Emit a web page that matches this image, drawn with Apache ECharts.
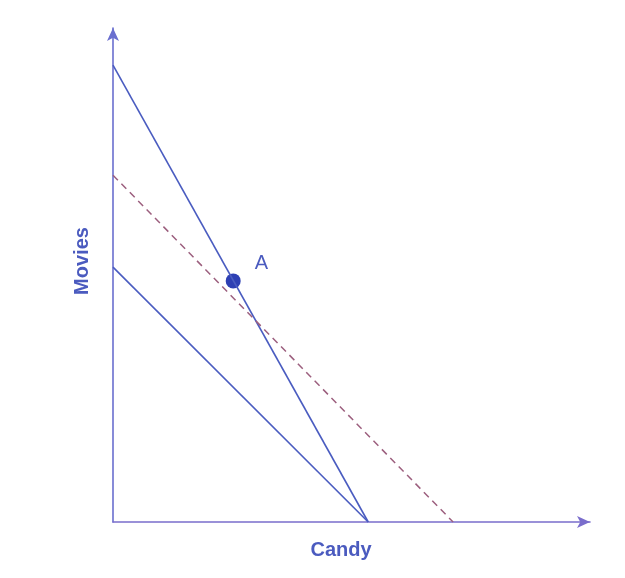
<!DOCTYPE html>
<html><head><meta charset="utf-8">
<script src="https://cdn.jsdelivr.net/npm/echarts@6/dist/echarts.min.js"></script>
<style>html,body{margin:0;padding:0;background:#fff}#c{width:625px;height:578px}</style>
</head><body><div id="c"></div>
<script>
const steepLine = [[0, 92.5], [53.5, 0]];
const lowerLine = [[0, 51.6], [53.5, 0]];
const dashedLine = [[0, 70.2], [71.3, 0]];
const pointA = [[25.2, 48.8]];
const pointLabel = "A";
const xName = "Candy";
const yName = "Movies";

const chart = echarts.init(document.getElementById('c'));
chart.setOption({
  animation: false,
  backgroundColor: '#ffffff',
  grid: {left: 113, right: 35, top: 28, bottom: 56},
  xAxis: {type: 'value', min: 0, max: 100,
    axisLine: {show: true, symbol: ['none', 'arrow'], symbolSize: [9, 13],
      lineStyle: {color: '#7a6dcc', width: 1.6}},
    axisTick: {show: false}, axisLabel: {show: false}, splitLine: {show: false}},
  yAxis: {type: 'value', min: 0, max: 100,
    axisLine: {show: true, symbol: ['none', 'arrow'], symbolSize: [9, 13],
      lineStyle: {color: '#6a6fcf', width: 1.6}},
    axisTick: {show: false}, axisLabel: {show: false}, splitLine: {show: false}},
  graphic: [
    {type: 'text', x: 341, y: 550,
      style: {text: xName, font: 'bold 20px "Liberation Sans", Arial, sans-serif', fill: '#4b5bbf', align: 'center', verticalAlign: 'middle'}},
    {type: 'text', x: 82, y: 261, rotation: Math.PI / 2,
      style: {text: yName, font: 'bold 20px "Liberation Sans", Arial, sans-serif', fill: '#4b5bbf', align: 'center', verticalAlign: 'middle'}}
  ],
  series: [
    {type: 'line', data: steepLine, symbol: 'none', lineStyle: {color: '#4a5cc0', width: 1.6}},
    {type: 'line', data: lowerLine, symbol: 'none', lineStyle: {color: '#4a5cc0', width: 1.6}},
    {type: 'line', data: dashedLine, symbol: 'none', lineStyle: {color: '#9c5f7e', width: 1.5, type: [7, 5]}},
    {type: 'scatter', data: pointA, symbolSize: 15, itemStyle: {color: '#2e40b4', opacity: 1},
      label: {show: true, formatter: pointLabel, position: 'right', offset: [9, -17],
        fontSize: 20, color: '#4b5bbf', fontFamily: '"Liberation Sans", Arial, sans-serif'}}
  ]
});
</script></body></html>
